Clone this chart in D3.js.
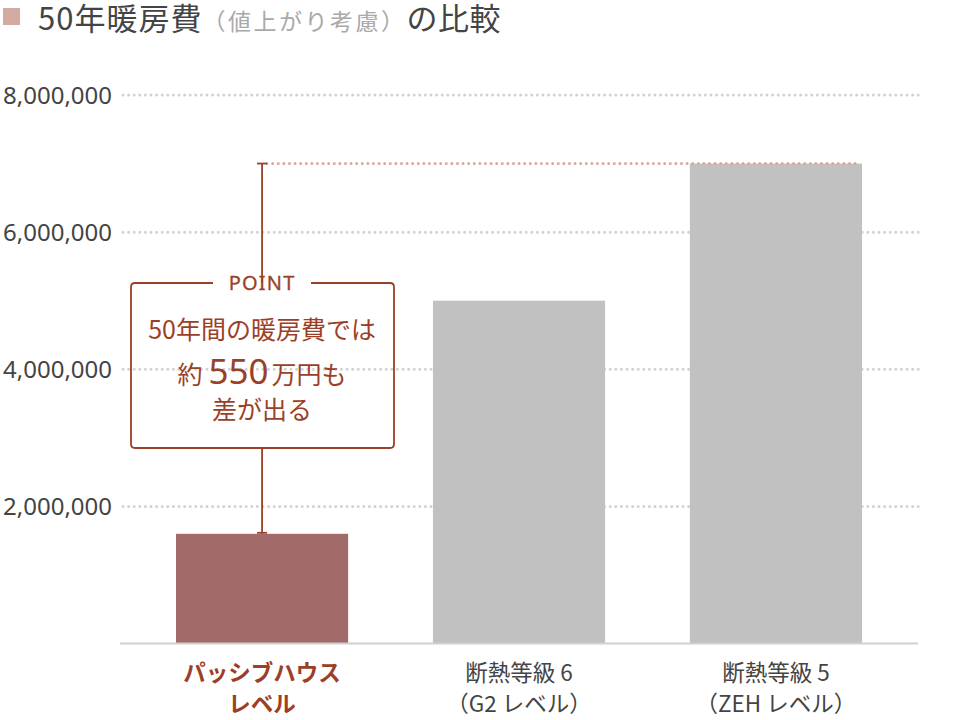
<!DOCTYPE html>
<html><head><meta charset="utf-8">
<script src="https://cdn.jsdelivr.net/npm/d3@7"></script>
<style>
body{margin:0;background:#fff}
text{font-family:"Noto Sans CJK JP","Noto Sans",sans-serif}
</style>
</head><body><svg id="c" width="958" height="720"></svg>
<script>
// ---- data ----
const categories = ["パッシブハウスレベル", "断熱等級6（G2レベル）", "断熱等級5（ZEHレベル）"];
const categoryLines = [["パッシブハウス", "レベル"], ["断熱等級 6", "（G2 レベル）"], ["断熱等級 5", "（ZEH レベル）"]];
const heatingCost50y = [1600000, 5000000, 7000000];
const yTicks = [2000000, 4000000, 6000000, 8000000];
const yMax = 8000000;
const titleMain = "50年暖房費";
const titleNote = "（値上がり考慮）";
const titleTail = "の比較";
const pointLabel = "POINT";
const noteLine1 = "50年間の暖房費では";
const noteLine2 = ["約", "550", "万円も"];
const noteLine3 = "差が出る";

// ---- styles ----
const C_ACC = "#9c3f27", C_HI = "#a16b69", C_GRAY = "#c1c1c1", C_GRID = "#d2d2d2", C_RDOT = "#d9a89c";

const svg = d3.select("#c");
const x = d3.scaleBand().domain(categories).range([120, 918]).paddingInner(0.33).paddingOuter(0.218);
const y = d3.scaleLinear().domain([0, yMax]).range([643.5, 95]);

// title
svg.append("rect").attr("x", 3).attr("y", 8).attr("width", 17).attr("height", 17).attr("fill", "#d4aba2");
const tt = svg.append("text").attr("x", 38).attr("y", 30).attr("fill", "#444").style("font-size", "31px");
tt.append("tspan").text(titleMain).style("letter-spacing", "1px");
tt.append("tspan").text(titleNote).attr("fill", "#a9a9a9").style("font-size", "23px").style("letter-spacing", "2.5px");
tt.append("tspan").text(titleTail).style("letter-spacing", "0.5px");

// grid
const grid = svg.append("g");
grid.selectAll("line").data(yTicks).join("line")
  .attr("x1", 123).attr("x2", 920).attr("y1", d => y(d)).attr("y2", d => y(d))
  .attr("stroke", C_GRID).attr("stroke-width", 3).attr("stroke-linecap", "round").attr("stroke-dasharray", "0,5.6");

// y axis labels
const yAxis = d3.axisLeft(y).tickValues(yTicks).tickFormat(d3.format(",")).tickSize(0).tickPadding(8);
const ga = svg.append("g").attr("transform", "translate(120,0)").call(yAxis);
ga.select(".domain").remove();
ga.selectAll("text").attr("fill", "#444").style("font-size", "24px").style("font-family", "'Noto Sans',sans-serif").attr("dy", "0.34em");

// bars
svg.append("g").selectAll("rect").data(categories).join("rect")
  .attr("x", d => x(d)).attr("width", x.bandwidth())
  .attr("y", (d, i) => y(heatingCost50y[i])).attr("height", (d, i) => y(0) - y(heatingCost50y[i]))
  .attr("fill", (d, i) => i === 0 ? C_HI : C_GRAY);

// baseline
svg.append("line").attr("x1", 120).attr("x2", 918).attr("y1", y(0)).attr("y2", y(0)).attr("stroke", "#d0d0d0").attr("stroke-width", 2);

// reference dotted line at top value
const cx0 = x(categories[0]) + x.bandwidth() / 2;
const topV = d3.max(heatingCost50y);
svg.append("line").attr("x1", cx0 + 5).attr("x2", x(categories[2]) + x.bandwidth() - 3)
  .attr("y1", y(topV)).attr("y2", y(topV))
  .attr("stroke", C_RDOT).attr("stroke-width", 3).attr("stroke-linecap", "round").attr("stroke-dasharray", "0,5.6");

// annotation
const boxL = 131, boxR = 394, boxT = 283, boxB = 448, r = 4, gapL = 213, gapR = 311;
const ann = svg.append("g").attr("stroke", C_ACC).attr("fill", "none").attr("stroke-width", 1.8);
ann.append("line").attr("x1", cx0).attr("x2", cx0).attr("y1", y(topV)).attr("y2", boxT);
ann.append("line").attr("x1", cx0 - 5).attr("x2", cx0 + 5).attr("y1", y(topV)).attr("y2", y(topV));
ann.append("line").attr("x1", cx0).attr("x2", cx0).attr("y1", boxB).attr("y2", y(heatingCost50y[0]));
ann.append("line").attr("x1", cx0 - 5).attr("x2", cx0 + 5).attr("y1", y(heatingCost50y[0]) - 1).attr("y2", y(heatingCost50y[0]) - 1);
ann.append("path").attr("d",
  `M${gapL},${boxT} H${boxL + r} Q${boxL},${boxT} ${boxL},${boxT + r} V${boxB - r} Q${boxL},${boxB} ${boxL + r},${boxB}` +
  ` H${boxR - r} Q${boxR},${boxB} ${boxR},${boxB - r} V${boxT + r} Q${boxR},${boxT} ${boxR - r},${boxT} H${gapR}`);

svg.append("text").attr("x", cx0).attr("y", 290).attr("text-anchor", "middle").attr("fill", C_ACC)
  .attr("stroke", C_ACC).attr("stroke-width", 0.3)
  .style("font-family", "'Noto Sans',sans-serif").style("font-size", "20px").style("letter-spacing", "1.2px").text(pointLabel);

svg.append("text").attr("x", cx0).attr("y", 339).attr("text-anchor", "middle").attr("fill", C_ACC)
  .style("font-size", "25px").text(noteLine1);
const l2 = svg.append("text").attr("x", cx0).attr("y", 384).attr("text-anchor", "middle").attr("fill", C_ACC).style("font-size", "25px");
l2.append("tspan").text(noteLine2[0]);
l2.append("tspan").text(noteLine2[1]).style("font-size", "35px").style("font-family", "'Noto Sans',sans-serif").attr("dx", 6);
l2.append("tspan").text(noteLine2[2]).attr("dx", 3);
svg.append("text").attr("x", cx0).attr("y", 419).attr("text-anchor", "middle").attr("fill", C_ACC)
  .style("font-size", "25px").text(noteLine3);

// x labels
const xl = svg.append("g");
categories.forEach((c, i) => {
  const cx = x(c) + x.bandwidth() / 2;
  const t = xl.append("text").attr("x", cx).attr("y", 681)
    .attr("text-anchor", "middle").attr("fill", i === 0 ? C_ACC : "#444")
    .style("font-weight", i === 0 ? 700 : 400)
    .style("font-size", i === 0 ? "22.5px" : "22.5px");
  categoryLines[i].forEach((ln, j) => {
    t.append("tspan").attr("x", cx).attr("dy", j === 0 ? 0 : 31).text(ln);
  });
});
</script>
</body></html>
